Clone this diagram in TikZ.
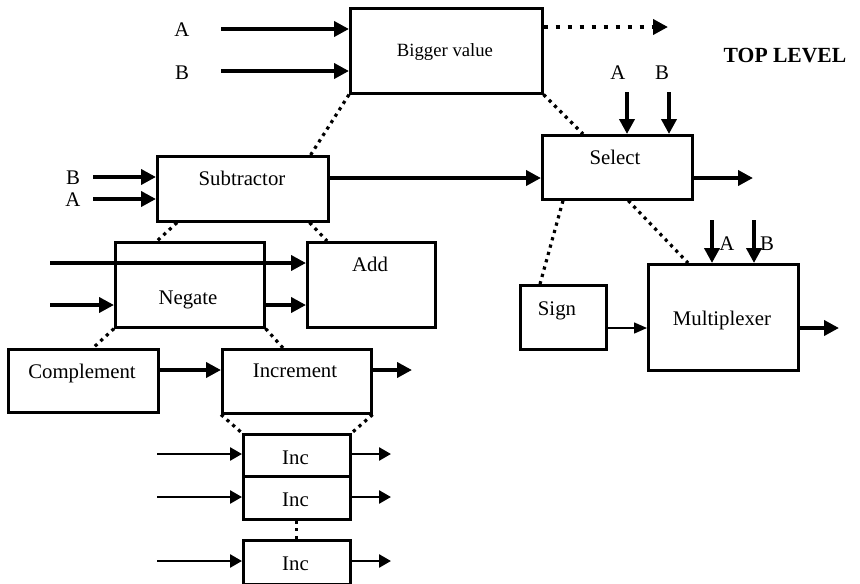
\documentclass[tikz,border=0pt]{standalone}
\usepackage{fontspec}
\setmainfont{Liberation Serif}
\usetikzlibrary{arrows.meta}
\begin{document}
\begin{tikzpicture}[x=1pt,y=-1pt,
  box/.style={draw, line width=2.6pt, anchor=north west, inner sep=0pt},
  lbl/.style={anchor=base, inner sep=0pt, font=\fontsize{20.8}{24}\selectfont},
  thickarr/.style={line width=4.8pt, -{Triangle[length=15pt,width=15pt]}},
  medarr/.style={line width=2.6pt, -{Triangle[length=12pt,width=13pt]}},
  thinarr/.style={line width=1.5pt, -{Triangle[length=13pt,width=11pt]}},
  dots/.style={line width=3.2pt, dash pattern=on 3.2pt off 4.4pt},
  bigdots/.style={line width=4.5pt, dash pattern=on 4.5pt off 7.5pt, -{Triangle[length=15pt,width=15pt]}}
]
\useasboundingbox (0,0) rectangle (860,584);

% boxes
\node[box, minimum width=192pt, minimum height=85pt] (bv) at (349,7) {};
\node[box, minimum width=150pt, minimum height=64pt] (sel) at (541,134) {};
\node[box, minimum width=171pt, minimum height=65pt] (sub) at (156,155) {};
\node[box, minimum width=149pt, minimum height=85pt] (neg) at (114,241) {};
\node[box, minimum width=128pt, minimum height=85pt] (add) at (306,241) {};
\node[box, minimum width=150pt, minimum height=63pt] (comp) at (7,348) {};
\node[box, minimum width=149pt, minimum height=64pt] (incr) at (221,348) {};
\node[box, minimum width=107pt, minimum height=42pt] (inca) at (242,433) {};
\node[box, minimum width=107pt, minimum height=43pt] (incb) at (242,475) {};
\node[box, minimum width=107pt, minimum height=44pt] (incc) at (242,539) {};
\node[box, minimum width=86pt, minimum height=64pt] (sign) at (519,284) {};
\node[box, minimum width=150pt, minimum height=106pt] (mux) at (647,263) {};

% texts
\node[lbl, font=\fontsize{18.7}{22}\selectfont] (tbv) at (445,56) {Bigger value};
\node[lbl, font=\fontsize{21.6}{25}\bfseries] (ttop) at (785,62) {TOP LEVEL};
\node[lbl] (tA1) at (182,36) {A};
\node[lbl] (tB1) at (182,79) {B};
\node[lbl] (tA2) at (618,79) {A};
\node[lbl] (tB2) at (662,79) {B};
\node[lbl] (tsel) at (615,164) {Select};
\node[lbl] (tsub) at (242,185) {Subtractor};
\node[lbl] (tB3) at (73,184) {B};
\node[lbl] (tA3) at (73,206) {A};
\node[lbl] (tneg) at (188,304) {Negate};
\node[lbl] (tadd) at (370,271) {Add};
\node[lbl] (tcomp) at (82,378) {Complement};
\node[lbl] (tincr) at (295,377) {Increment};
\node[lbl] (tinca) at (295.5,464) {Inc};
\node[lbl] (tincb) at (295.5,506) {Inc};
\node[lbl] (tincc) at (295.5,570) {Inc};
\node[lbl] (tsign) at (557,315) {Sign};
\node[lbl] (tmux) at (722,325) {Multiplexer};
\node[lbl] (tA4) at (727,250) {A};
\node[lbl] (tB4) at (767,250) {B};

% free ends
\coordinate (inA) at (221,29);
\coordinate (inB) at (221,71);
\coordinate (dOut) at (668,27);
\coordinate (sA) at (627,92);
\coordinate (sB) at (669,92);
\coordinate (r1) at (0,178);
\coordinate (selOut) at (753,178);
\coordinate (subB) at (93,177);
\coordinate (subA) at (93,199);
\coordinate (lng) at (50,263);
\coordinate (negIn) at (50,305);
\coordinate (r2) at (0,370);
\coordinate (incrOut) at (412,370);
\coordinate (ia) at (157,454);
\coordinate (ib) at (157,497);
\coordinate (ic) at (157,561);
\coordinate (oa) at (391,454);
\coordinate (ob) at (391,497);
\coordinate (oc) at (391,561);
\coordinate (r3) at (0,328);
\coordinate (muxOut) at (839,328);
\coordinate (mA) at (712,220);
\coordinate (mB) at (754,220);

% arrows
\draw[thickarr] (inA) -- (bv.west |- inA);
\draw[thickarr] (inB) -- (bv.west |- inB);
\draw[bigdots] (bv.east |- dOut) -- (dOut);
\draw[thickarr] (sA) -- (sel.north -| sA);
\draw[thickarr] (sB) -- (sel.north -| sB);
\draw[thickarr] (sub.east |- r1) -- (sel.west |- r1);
\draw[thickarr] (sel.east |- r1) -- (selOut);
\draw[thickarr] (subB) -- (sub.west |- subB);
\draw[thickarr] (subA) -- (sub.west |- subA);
\draw[thickarr] (lng) -- (add.west |- lng);
\draw[thickarr] (negIn) -- (neg.west |- negIn);
\draw[thickarr] (neg.east |- negIn) -- (add.west |- negIn);
\draw[thickarr] (comp.east |- r2) -- (incr.west |- r2);
\draw[thickarr] (incr.east |- r2) -- (incrOut);
\draw[medarr] (ia) -- (inca.west |- ia);
\draw[medarr] (ib) -- (incb.west |- ib);
\draw[medarr] (ic) -- (incc.west |- ic);
\draw[medarr] (inca.east |- oa) -- (oa);
\draw[medarr] (incb.east |- ob) -- (ob);
\draw[medarr] (incc.east |- oc) -- (oc);
\draw[thinarr] (sign.east |- r3) -- (mux.west |- r3);
\draw[thickarr] (mux.east |- r3) -- (muxOut);
\draw[thickarr] (mA) -- (mux.north -| mA);
\draw[thickarr] (mB) -- (mux.north -| mB);

% dotted hierarchy links
\draw[dots] (bv.south west) -- ([xshift=-19pt]sub.north east);
\draw[dots] (bv.south east) -- ([xshift=42pt]sel.north west);
\draw[dots] ([xshift=21pt]sub.south west) -- ([xshift=43pt]neg.north west);
\draw[dots] ([xshift=-20pt]sub.south east) -- ([xshift=21pt]add.north west);
\draw[dots] (neg.south west) -- ([xshift=86pt]comp.north west);
\draw[dots] (neg.south east) -- ([xshift=62pt]incr.north west);
\draw[dots] (incr.south west) -- (inca.north west);
\draw[dots] (incr.south east) -- (inca.north east);
\draw[dots] (incb.south) -- (incc.north);
\draw[dots] ([xshift=22pt]sel.south west) -- ([xshift=21pt]sign.north west);
\draw[dots] ([xshift=11pt]sel.south) -- ([xshift=41pt]mux.north west);
\end{tikzpicture}
\end{document}
